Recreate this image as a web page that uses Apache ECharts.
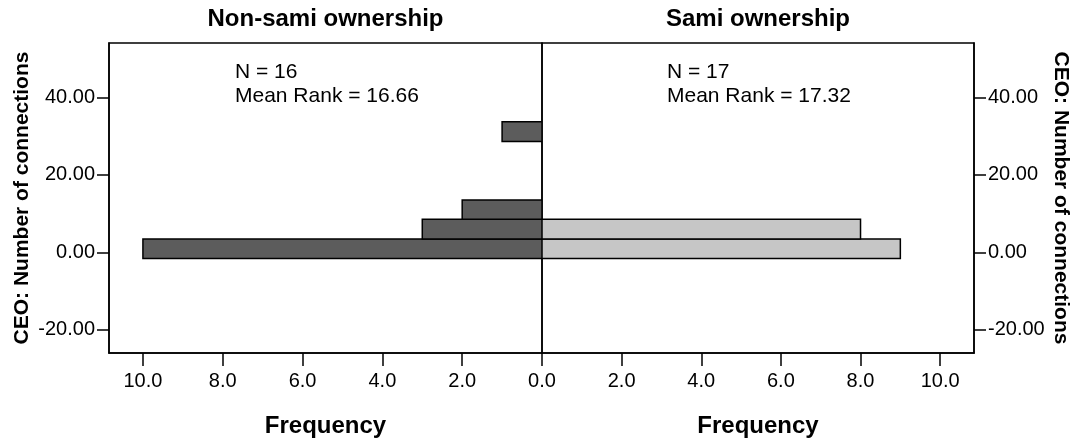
<!DOCTYPE html>
<html><head><meta charset="utf-8">
<script src="https://cdn.jsdelivr.net/npm/echarts@6/dist/echarts.min.js"></script>
<style>html,body{margin:0;padding:0;background:#fff}#c{width:1077px;height:447px}</style>
</head><body><div id="c"></div>
<script>
// ---- data ----
const binEdges = [-1.6, 3.4, 8.5, 13.5, 18.6, 23.6, 28.6, 33.7];
const nonSamiCounts = [10, 3, 2, 0, 0, 0, 1];
const samiCounts = [9, 8, 0, 0, 0, 0, 0];
const panelTitles = ['Non-sami ownership', 'Sami ownership'];
const panelStats = [['N = 16', 'Mean Rank = 16.66'], ['N = 17', 'Mean Rank = 17.32']];
const freqTicks = [0, 2, 4, 6, 8, 10];
const freqLabelsRight = [2, 4, 6, 8, 10];
const yTicks = [-20, 0, 20, 40];
const yName = 'CEO: Number of connections';
const xName = 'Frequency';

// ---- chart ----
const FONT = '"Liberation Sans", Arial, sans-serif';
function toBins(counts) {
  return counts.map((c, i) => [binEdges[i], binEdges[i + 1], c]).filter(d => d[2] > 0);
}
function renderBar(params, api) {
  const lo = api.value(0), hi = api.value(1), c = api.value(2);
  const p0 = api.coord([0, lo]);
  const p1 = api.coord([c, hi]);
  return {
    type: 'rect',
    shape: {
      x: Math.min(p0[0], p1[0]), y: Math.min(p0[1], p1[1]),
      width: Math.abs(p1[0] - p0[0]), height: Math.abs(p1[1] - p0[1])
    },
    style: { fill: api.visual('color'), stroke: '#000', lineWidth: 1.5 }
  };
}
function xAxisCfg(grid, inverse, labels) {
  return {
    type: 'value', gridIndex: grid, min: 0, max: 10.85, inverse: inverse, position: 'bottom',
    axisLine: { show: true, onZero: false, lineStyle: { color: '#000', width: 1.5 } },
    axisTick: { show: true, customValues: freqTicks, length: 13, lineStyle: { color: '#000', width: 1.5 } },
    axisLabel: { customValues: labels, formatter: v => v.toFixed(1), fontSize: 20, color: '#000', fontFamily: FONT, margin: 18 },
    splitLine: { show: false },
    name: xName, nameLocation: 'middle', nameGap: 61,
    nameTextStyle: { fontSize: 24, fontWeight: 'bold', color: '#000', fontFamily: FONT }
  };
}
function yAxisCfg(grid, pos) {
  return {
    type: 'value', gridIndex: grid, min: -26, max: 54, position: pos,
    axisLine: { show: true, onZero: false, lineStyle: { color: '#000', width: 1.5 } },
    axisTick: { show: true, customValues: yTicks, length: 12, lineStyle: { color: '#000', width: 1.5 } },
    axisLabel: { customValues: yTicks, formatter: v => v.toFixed(2), fontSize: 20, color: '#000', fontFamily: FONT, margin: 14 },
    splitLine: { show: false },
    name: yName, nameLocation: 'middle', nameGap: 76, nameRotate: pos === 'left' ? 90 : -90,
    nameTextStyle: { fontSize: 21, fontWeight: 'bold', color: '#000', fontFamily: FONT }
  };
}
const chart = echarts.init(document.getElementById('c'), null, { renderer: 'canvas' });
chart.setOption({
  animation: false,
  backgroundColor: '#fff',
  grid: [
    { left: 109, right: 535, top: 43, bottom: 94, show: true, borderColor: '#000', borderWidth: 1.5, backgroundColor: 'transparent' },
    { left: 542, right: 103, top: 43, bottom: 94, show: true, borderColor: '#000', borderWidth: 1.5, backgroundColor: 'transparent' }
  ],
  xAxis: [xAxisCfg(0, true, freqTicks), xAxisCfg(1, false, freqLabelsRight)],
  yAxis: [yAxisCfg(0, 'left'), yAxisCfg(1, 'right')],
  series: [
    { type: 'custom', xAxisIndex: 0, yAxisIndex: 0, data: toBins(nonSamiCounts), encode: { x: 2, y: [0, 1] }, itemStyle: { color: '#5c5c5c' }, renderItem: renderBar, clip: true },
    { type: 'custom', xAxisIndex: 1, yAxisIndex: 1, data: toBins(samiCounts), encode: { x: 2, y: [0, 1] }, itemStyle: { color: '#c6c6c6' }, renderItem: renderBar, clip: true }
  ],
  graphic: [
    { type: 'text', x: 325.5, y: 19, style: { text: panelTitles[0], font: 'bold 24px ' + FONT, fill: '#000', align: 'center', verticalAlign: 'middle' } },
    { type: 'text', x: 758, y: 19, style: { text: panelTitles[1], font: 'bold 24px ' + FONT, fill: '#000', align: 'center', verticalAlign: 'middle' } },
    { type: 'text', x: 235, y: 60, style: { text: panelStats[0].join('\n'), font: '21px ' + FONT, lineHeight: 24, fill: '#000', align: 'left', verticalAlign: 'top' } },
    { type: 'text', x: 667, y: 60, style: { text: panelStats[1].join('\n'), font: '21px ' + FONT, lineHeight: 24, fill: '#000', align: 'left', verticalAlign: 'top' } }
  ]
});
</script>
</body></html>
